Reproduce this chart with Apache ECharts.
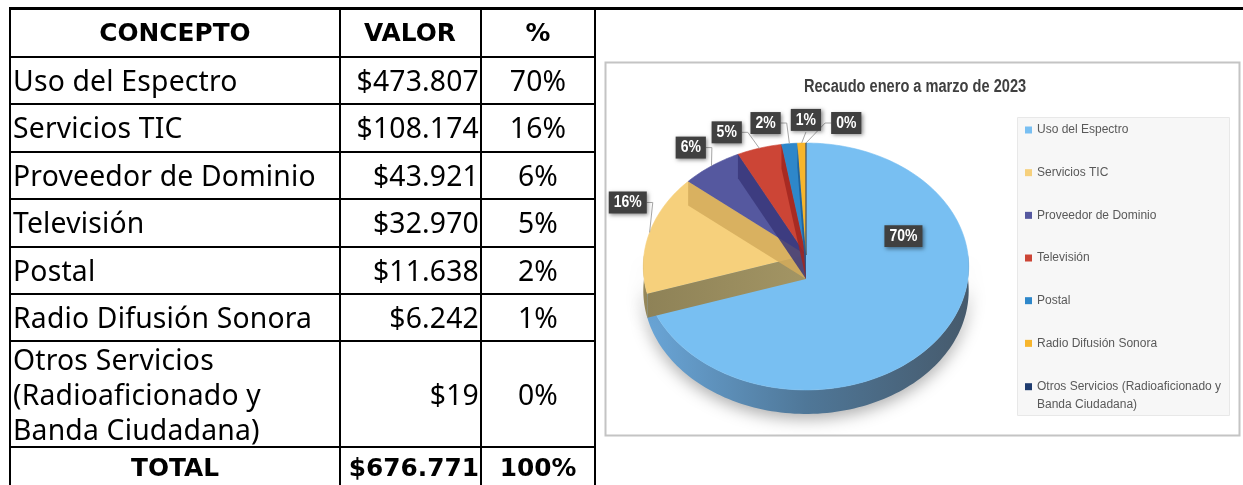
<!DOCTYPE html>
<html><head><meta charset="utf-8">
<script src="https://cdn.jsdelivr.net/npm/echarts@6/dist/echarts.min.js"></script>
<style>
html,body{margin:0;padding:0;background:#fff;width:1243px;height:485px;overflow:hidden;}
#chart{position:absolute;left:0;top:0;width:1243px;height:485px;}
#tbl{position:absolute;left:0;top:0;width:1243px;height:485px;z-index:2;pointer-events:none;}
.ln{position:absolute;background:#000;}
.cell{position:absolute;display:flex;align-items:center;box-sizing:border-box;color:#000;white-space:normal;}
.body{font-family:'Noto Sans',sans-serif;font-size:28.3px;letter-spacing:0.2px;line-height:35px;}
.head{font-family:'DejaVu Sans',sans-serif;font-weight:bold;font-size:24.8px;line-height:30px;}
</style></head><body>
<div id="chart"></div>
<div id="tbl"></div>
<script>
// ---------- data ----------
const categories = ['Uso del Espectro','Servicios TIC','Proveedor de Dominio','Televisión','Postal','Radio Difusión Sonora','Otros Servicios (Radioaficionado y Banda Ciudadana)'];
const values = [473807,108174,43921,32970,11638,6242,19];
const headers = ['CONCEPTO','VALOR','%'];
const totalLabel = 'TOTAL';
const chartTitle = 'Recaudo enero a marzo de 2023';

// ---------- styles ----------
const topColors = ['#78bff2','#f6d07c','#55589f','#cc4536','#2e87ca','#f7b52c','#1f3c6f'];
const endWallColors = ['#3f6f96','#d4ab5c','#39377a','#a1261e','#1d5d96','#c48a12','#12264a'];
const startWallColors = ['#5a86ab','#8e8257','#3b3a74','#9c2a21','#1f5f96','#b98516','#15294d'];
const sideShades = [['#6aa6d8','#4f7798','#465a6c'],['#958759','#7f7149','#6a5e3e'],['#4a4c8a','#3a3c72','#2e3060'],['#b03a2e','#962e25','#7d261f'],['#2a78b4','#215f90','#1b4d74'],['#d9a025','#b9861c','#966c16'],['#1a335e','#142a4e','#10223f']];

// ---------- helpers ----------
const total = values.reduce((a,b)=>a+b,0);
const fmt = v => '$' + String(v).replace(/\B(?=(\d{3})+(?!\d))/g,'.');
const pct = v => Math.round(v*100/total) + '%';
const mctx = document.createElement('canvas').getContext('2d');
function hasFont(f){ const s='Recaudo enero 2023 mmmiiiWW'; mctx.font='40px monospace'; const w1=mctx.measureText(s).width; mctx.font='40px "'+f+'", monospace'; const w2=mctx.measureText(s).width; return Math.abs(w1-w2)>0.5; }
const narrow = hasFont('Liberation Sans Narrow');
const labelFont = narrow ? 'bold 17px "Liberation Sans Narrow"' : 'bold 14px "Liberation Sans", Arial, sans-serif';
const labelScale = narrow ? 1 : 1.22;
function textW(t, font){ mctx.font = font; return mctx.measureText(t).width; }
function wrap(text, maxW, font){ const words=text.split(' '); const lines=[]; let cur=''; words.forEach(w=>{ const t=cur?cur+' '+w:w; if(textW(t,font)>maxW && cur){ lines.push(cur); cur=w; } else cur=t; }); if(cur) lines.push(cur); return lines.join('\n'); }

// ---------- table ----------
const colX=[10,340,481,595];
const rowY=[8.5,57,104,151.5,199,246.5,294,341,447,489];
const tbl=document.getElementById('tbl');
function addDiv(cls, st, txt){ const d=document.createElement('div'); d.className=cls; Object.assign(d.style, st); if(txt!=null) d.textContent=txt; tbl.appendChild(d); return d; }
addDiv('ln',{left:'9px',top:'7px',width:'1234px',height:'3px'});
colX.forEach(x=>addDiv('ln',{left:(x-1)+'px',top:'7px',width:'2px',height:'480px'}));
rowY.slice(1,9).forEach(y=>addDiv('ln',{left:'9px',top:(y-1)+'px',width:(colX[3]-8)+'px',height:'2px'}));
const rows=[{cells:headers,head:true}].concat(categories.map((c,i)=>({cells:[c,fmt(values[i]),pct(values[i])]}))).concat([{cells:[totalLabel,fmt(total),'100%'],head:true}]);
rows.forEach((row,r)=>{
  row.cells.forEach((txt,c)=>{
    let just='center';
    if(c===1 && r>0) just='flex-end';
    if(c===0 && !row.head) just='flex-start';
    addDiv('cell '+(row.head?'head':'body'),{
      left:(colX[c]+1)+'px', top:rowY[r]+'px', width:(colX[c+1]-colX[c]-2)+'px', height:(rowY[r+1]-rowY[r])+'px',
      justifyContent:just, paddingLeft:(c===0&&!row.head)?'2px':'0', paddingRight:(c===1)?'1px':'0',
      textAlign:(c===0&&!row.head)?'left':(c===1&&r>0?'right':'center')
    }, txt);
  });
});

// ---------- pie geometry (perspective ellipse) ----------
const PIE={cx:806, cy:255, a:162, b:122.4, k:0.093, depth:24};
const FRAME={x:605, y:62, w:634, h:373};
function proj(r, deg, drop){ const t=deg*Math.PI/180; const u=r*Math.sin(t), v=-r*Math.cos(t); const s=1/(1-PIE.k*v); return [PIE.cx+PIE.a*u*s, PIE.cy+PIE.b*v*s+(drop||0)]; }
function arc(a1,a2,drop){ const pts=[]; const n=Math.max(2,Math.ceil(Math.abs(a2-a1)/1.5)); for(let i=0;i<=n;i++) pts.push(proj(1,a1+(a2-a1)*i/n,drop)); return pts; }

let acc=0;
const slices=values.map((v,i)=>{ const s=acc/total*360; acc+=v; const e=acc/total*360; return {i,start:s,end:e,mid:(s+e)/2,share:v/total}; });
// label angles: outside labels spread apart along a larger ellipse
const outs=slices.filter(s=>s.share<0.25).map(s=>({s,ang:s.mid}));
const GAP=13, LR=1.23;
for(let it=0;it<600;it++){ for(let j=0;j<outs.length-1;j++){ const g=outs[j+1].ang-outs[j].ang; if(g<GAP){ const d=(GAP-g)/2; outs[j].ang-=d; outs[j+1].ang+=d; } } }
slices.forEach(sl=>{
  const txt=pct(values[sl.i]);
  const hw=textW(txt,labelFont)/2+5, hh=(narrow?22:20*labelScale)/2;
  sl.txt=txt; sl.hw=hw; sl.hh=hh;
  if(sl.share>=0.25){ sl.inside=true; sl.lp=proj(0.63, sl.start+0.3*(sl.end-sl.start)); }
  else {
    const o=outs.find(q=>q.s===sl); let ang=o.ang; let p=proj(LR,ang);
    // rotate towards the top until the label fits inside the chart frame
    let guard=0;
    while(p[0]-hw < FRAME.x+3 && guard++<200){ ang += (ang>180 && ang<360)?0.5:-0.5; p=proj(LR,ang); }
    sl.lp=p;
  }
});

function wallPts(deg){ const c=proj(0,0), r=proj(1,deg); return [c, r, [r[0], r[1]+PIE.depth], [c[0], c[1]+PIE.depth]]; }

function renderSlice(i){
  return function(params, api){
    const sl=slices[i]; const ch=[];
    const f1=Math.max(sl.start,90), f2=Math.min(sl.end,270);
    if(f2>f1){
      const pts=arc(f1,f2,0).concat(arc(f2,f1,PIE.depth));
      const sh=sideShades[i];
      ch.push({type:'polygon', shape:{points:pts}, z2:1,
        style:{fill:new echarts.graphic.LinearGradient(PIE.cx-PIE.a,0,PIE.cx+PIE.a,0,[{offset:0,color:sh[0]},{offset:0.5,color:sh[1]},{offset:1,color:sh[2]}],true),
        shadowBlur:16, shadowColor:'rgba(0,0,0,0.32)', shadowOffsetY:5}});
    }
    if(sl.start>180 && sl.start<270){
      const p=wallPts(sl.start);
      ch.push({type:'polygon', shape:{points:p}, z2:3,
        style:{fill:new echarts.graphic.LinearGradient(p[1][0],0,p[0][0],0,[{offset:0,color:startWallColors[i]},{offset:1,color:echarts.color.lift(startWallColors[i],-0.15)}],true)}});
    }
    const top=[proj(0,0)].concat(arc(sl.start,sl.end,0));
    ch.push({type:'polygon', shape:{points:top}, z2:2, style:{fill:topColors[i], stroke:topColors[i], lineWidth:0.6}});
    if(sl.end>270 && sl.end<359.9){
      ch.push({type:'polygon', shape:{points:wallPts(sl.end)}, z2:3, style:{fill:endWallColors[i], opacity:0.85}});
    }
    const [lx,ly]=sl.lp;
    if(!sl.inside){
      const an=proj(1,sl.mid);
      let pts;
      if(an[0]>lx+sl.hw) pts=[[lx+sl.hw,ly],[lx+sl.hw+6,ly],an];
      else if(an[0]<lx-sl.hw) pts=[[lx-sl.hw,ly],[lx-sl.hw-6,ly],an];
      else pts=[[lx,ly+sl.hh],an];
      ch.push({type:'polyline', shape:{points:pts}, z2:9, style:{stroke:'#a6a6a6', lineWidth:1, fill:null}});
    }
    ch.push({type:'text', x:lx, y:ly, scaleY:labelScale, z2:10,
      style:{text:sl.txt, fill:'#ffffff', font:labelFont, align:'center', verticalAlign:'middle',
        backgroundColor:'#404040', padding:narrow?[3,5]:[2,5], shadowBlur:4, shadowColor:'rgba(0,0,0,0.45)', shadowOffsetX:1.5, shadowOffsetY:1.5}});
    return {type:'group', children:ch};
  };
}

// ---------- chart ----------
const legendFont='12px "Liberation Sans", Arial, sans-serif';
const chart=echarts.init(document.getElementById('chart'),null,{renderer:'canvas'});
const legendText={fontFamily:'"Liberation Sans", Arial, sans-serif', fontSize:12, color:'#595959', lineHeight:18};
chart.setOption({
  backgroundColor:'transparent',
  animation:false,
  color:topColors,
  graphic:[
    {type:'rect', z:-10, shape:{x:FRAME.x+0.5,y:FRAME.y+0.5,width:FRAME.w,height:FRAME.h}, style:{fill:'#ffffff', stroke:'#c4c4c4', lineWidth:2}},
    {type:'rect', z:-9, shape:{x:1017.5,y:117.5,width:212,height:298}, style:{fill:'#f7f7f7', stroke:'#e8e8e8', lineWidth:1}},
    {type:'text', z:5, x:915, y:87, scaleY:narrow?1.05:1.25,
      style:{text:chartTitle, align:'center', verticalAlign:'middle', fill:'#404040',
        font: narrow ? 'bold 17.8px "Liberation Sans Narrow"' : 'bold 14.6px "Liberation Sans", Arial, sans-serif'}}
  ],
  legend:[
    {data:categories.slice(0,6), orient:'vertical', left:1025, top:121, padding:0, itemWidth:7, itemHeight:7, itemGap:24.67, icon:'rect', selectedMode:false, textStyle:legendText},
    {data:categories.slice(6), orient:'vertical', left:1025, top:359.7, padding:0, itemWidth:7, itemHeight:7, icon:'rect', selectedMode:false, textStyle:legendText,
      formatter:name=>'\n'+wrap(name,192,legendFont)}
  ],
  series:categories.map((name,i)=>({type:'custom', name, coordinateSystem:'none', data:[[values[i]]], renderItem:renderSlice(i), itemStyle:{color:topColors[i]}, silent:true}))
});
</script>
</body></html>
